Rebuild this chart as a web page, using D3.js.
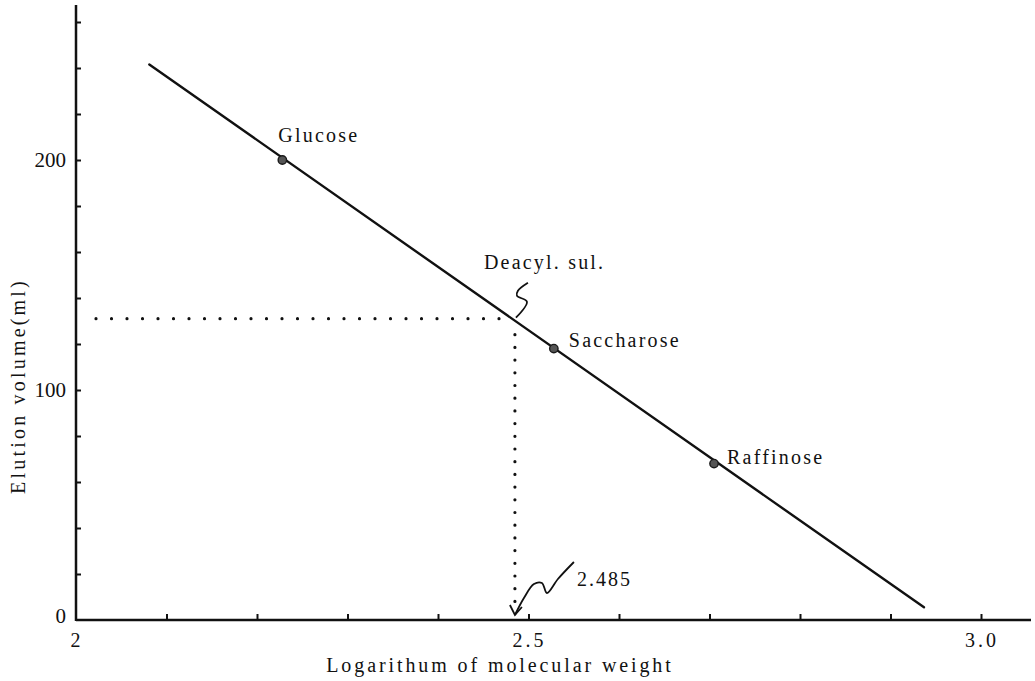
<!DOCTYPE html>
<html>
<head>
<meta charset="utf-8">
<script src="https://cdn.jsdelivr.net/npm/d3@7"></script>
<style>
  html, body { margin: 0; padding: 0; background: #fff; }
  svg text { font-family: "Liberation Serif", "Times New Roman", serif; fill: #111; }
</style>
</head>
<body>
<figure id="chart" style="margin:0"></figure>
<script>
// standards on the calibration line
const standards = ["Glucose", "Saccharose", "Raffinose"];
const standardLogMW = [2.228, 2.528, 2.705];
const standardVolume = [200, 118, 68];

// fitted line end points
const lineLogMW = [2.081, 2.937];
const lineVolume = [241.5, 5.5];

// unknown sample
const sampleName = "Deacyl. sul.";
const sampleLogMW = 2.485;
const sampleVolume = 131;
const sampleText = "2.485";

// axes
const xTicks = [2.1, 2.2, 2.3, 2.4, 2.5, 2.6, 2.7, 2.8, 2.9, 3.0];
const xLabelValues = [2, 2.5, 3.0];
const xLabelText = ["2", "2.5", "3.0"];
const yTicks = [20, 40, 60, 80, 100, 120, 140, 160, 180, 200, 220, 240, 260];
const yLabelValues = [0, 100, 200];
const yLabelText = ["0", "100", "200"];
const xTitle = "Logarithum of molecular weight";
const yTitle = "Elution volume(ml)";

const width = 1035, height = 681;

const svg = d3.select("#chart")
  .append("svg")
  .attr("width", width)
  .attr("height", height);

// scales
const x = d3.scaleLinear().domain([2, 3]).range([76, 981]);
const y = d3.scaleLinear().domain([0, 200]).range([620, 160]);
const xEnd = 1031, yTop = 5;

const ink = "#111";
const fontSize = 20;

// axis lines
svg.append("line")
  .attr("x1", x(2)).attr("x2", xEnd)
  .attr("y1", y(0)).attr("y2", y(0))
  .attr("stroke", ink).attr("stroke-width", 2.5);
svg.append("line")
  .attr("x1", x(2)).attr("x2", x(2))
  .attr("y1", y(0) + 1).attr("y2", yTop)
  .attr("stroke", ink).attr("stroke-width", 2.5);

// x ticks (pointing up into the plot)
svg.append("g")
  .attr("transform", "translate(0," + y(0) + ")")
  .call(d3.axisBottom(x).tickValues(xTicks).tickSize(-6).tickSizeOuter(0).tickFormat(""))
  .call(g => g.select(".domain").remove())
  .selectAll("line").attr("stroke", ink).attr("stroke-width", 2);

// y ticks (pointing right into the plot)
svg.append("g")
  .attr("transform", "translate(" + x(2) + ",0)")
  .call(d3.axisLeft(y).tickValues(yTicks).tickSize(-5).tickSizeOuter(0).tickFormat(""))
  .call(g => g.select(".domain").remove())
  .selectAll("line").attr("stroke", ink).attr("stroke-width", 2);

// tick labels
svg.selectAll(".xlab")
  .data(xLabelValues)
  .enter().append("text")
  .attr("class", "xlab")
  .attr("x", d => x(d) + 1)
  .attr("y", y(0) + 27)
  .attr("text-anchor", "middle")
  .style("font-size", "20px")
  .style("letter-spacing", "3px")
  .text((d, i) => xLabelText[i]);

svg.selectAll(".ylab")
  .data(yLabelValues)
  .enter().append("text")
  .attr("class", "ylab")
  .attr("x", x(2) - 10)
  .attr("y", d => y(d) + (d === 0 ? 3 : 7))
  .attr("text-anchor", "end")
  .style("font-size", "21px")
  .text((d, i) => yLabelText[i]);

// axis titles
svg.append("text")
  .attr("x", 500)
  .attr("y", 672)
  .attr("text-anchor", "middle")
  .style("font-size", fontSize + "px")
  .style("letter-spacing", "2.9px")
  .text(xTitle);

svg.append("text")
  .attr("transform", "translate(25,386) rotate(-90)")
  .attr("text-anchor", "middle")
  .style("font-size", fontSize + "px")
  .style("letter-spacing", "3.2px")
  .text(yTitle);

// dotted read-off lines
svg.append("line")
  .attr("x1", x(2) + 20).attr("x2", x(sampleLogMW) - 7)
  .attr("y1", y(sampleVolume)).attr("y2", y(sampleVolume))
  .attr("stroke", ink).attr("stroke-width", 3.2)
  .attr("stroke-linecap", "round")
  .attr("stroke-dasharray", "0 15.5");

svg.append("line")
  .attr("x1", x(sampleLogMW)).attr("x2", x(sampleLogMW))
  .attr("y1", y(sampleVolume) + 16).attr("y2", y(0) - 16)
  .attr("stroke", ink).attr("stroke-width", 3.2)
  .attr("stroke-linecap", "round")
  .attr("stroke-dasharray", "0 12.7");

// calibration line
svg.append("line")
  .attr("x1", x(lineLogMW[0])).attr("y1", y(lineVolume[0]))
  .attr("x2", x(lineLogMW[1])).attr("y2", y(lineVolume[1]))
  .attr("stroke", ink).attr("stroke-width", 2.4)
  .attr("stroke-linecap", "round");

// standard points
svg.selectAll(".pt")
  .data(standards)
  .enter().append("circle")
  .attr("class", "pt")
  .attr("cx", (d, i) => x(standardLogMW[i]))
  .attr("cy", (d, i) => y(standardVolume[i]))
  .attr("r", 4.2)
  .attr("fill", "#555")
  .attr("stroke", "#1a1a1a")
  .attr("stroke-width", 1.4);

const labelOffsets = [[-4, -18], [15, -2], [13, 0]];
svg.selectAll(".ptlab")
  .data(standards)
  .enter().append("text")
  .attr("class", "ptlab")
  .attr("x", (d, i) => x(standardLogMW[i]) + labelOffsets[i][0])
  .attr("y", (d, i) => y(standardVolume[i]) + labelOffsets[i][1])
  .style("font-size", fontSize + "px")
  .style("letter-spacing", "2.2px")
  .text(d => d);

// sample label with its squiggle
const sx = x(sampleLogMW), sy = y(sampleVolume);
svg.append("text")
  .attr("x", sx - 31)
  .attr("y", sy - 50)
  .style("font-size", fontSize + "px")
  .style("letter-spacing", "2.2px")
  .text(sampleName);

const squiggle = d3.line().curve(d3.curveCatmullRom);
svg.append("path")
  .attr("d", squiggle([[sx + 13, sy - 36], [sx + 3, sy - 28], [sx + 2, sy - 23], [sx + 12, sy - 17], [sx + 1, sy - 1]]))
  .attr("fill", "none").attr("stroke", ink).attr("stroke-width", 1.8);

// arrow to the read-off value
const ax = x(sampleLogMW), ay = y(0) - 5;
svg.append("path")
  .attr("d", squiggle([[ax + 59, ay - 53], [ax + 43, ay - 36], [ax + 32, ay - 22], [ax + 27, ay - 32], [ax + 19, ay - 31], [ax + 9, ay - 17], [ax, ay]]))
  .attr("fill", "none").attr("stroke", ink).attr("stroke-width", 1.8);
svg.append("path")
  .attr("d", "M" + (ax - 5) + "," + (ay - 10) + "L" + ax + "," + ay + "L" + (ax + 7) + "," + (ay - 8))
  .attr("fill", "none").attr("stroke", ink).attr("stroke-width", 1.8);

svg.append("text")
  .attr("x", ax + 62)
  .attr("y", ay - 29)
  .style("font-size", fontSize + "px")
  .style("letter-spacing", "2px")
  .text(sampleText);
</script>
</body>
</html>
